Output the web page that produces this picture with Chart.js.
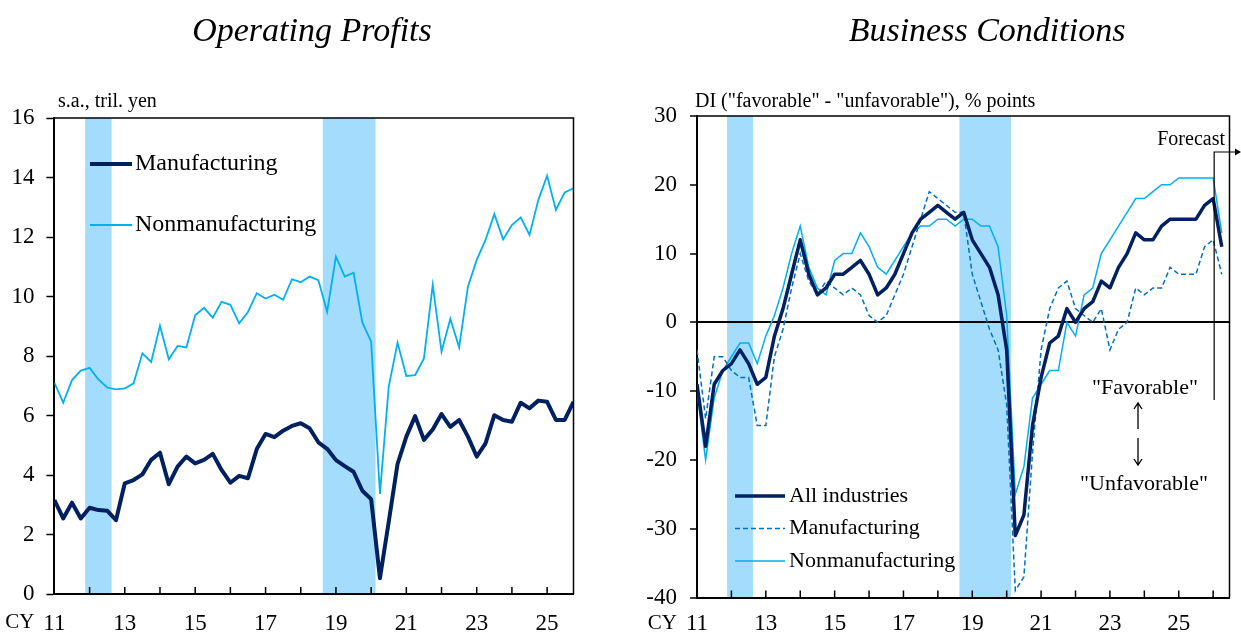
<!DOCTYPE html>
<html lang="en">
<head>
<meta charset="utf-8">
<title>Operating Profits and Business Conditions</title>
<script src="https://cdn.jsdelivr.net/npm/chart.js@4.4.1/dist/chart.umd.min.js"></script>
<style>
    html, body { margin: 0; padding: 0; background: #ffffff; }
    #page { position: relative; width: 1241px; height: 635px; overflow: hidden; }
    #profitsChart { position: absolute; left: 0; top: 0; }
    #conditionsChart { position: absolute; left: 620px; top: 0; }
</style>
</head>
<body>
<div id="page">
    <canvas id="profitsChart" width="620" height="635"></canvas>
    <canvas id="conditionsChart" width="621" height="635"></canvas>
</div>
<script>
// quarterly, from CY2011 Q1
const profitQuarters = makeQuarters(2011, 60);   // to 2025 Q4
const tankanQuarters = makeQuarters(2011, 62);   // to 2026 Q2 (last one is the forecast)
const yearLabels = ['11', '13', '15', '17', '19', '21', '23', '25'];

// operating profits, s.a., tril. yen
const profitsManufacturing = [
    3.16, 2.54, 3.07, 2.54, 2.90, 2.82, 2.80, 2.48, 3.72, 3.83,
    4.02, 4.51, 4.75, 3.69, 4.28, 4.62, 4.39, 4.51, 4.71, 4.17,
    3.74, 3.97, 3.89, 4.87, 5.38, 5.27, 5.49, 5.65, 5.74, 5.57,
    5.10, 4.88, 4.50, 4.30, 4.11, 3.47, 3.19, 0.53, 2.43, 4.37,
    5.29, 5.98, 5.18, 5.53, 6.05, 5.62, 5.85, 5.29, 4.62, 5.06,
    6.01, 5.85, 5.79, 6.43, 6.24, 6.50, 6.46, 5.85, 5.85, 6.46
];
const profitsNonmanufacturing = [
    7.10, 6.43, 7.19, 7.51, 7.60, 7.21, 6.94, 6.88, 6.91, 7.08,
    8.09, 7.80, 9.02, 7.89, 8.34, 8.29, 9.37, 9.62, 9.29, 9.82,
    9.72, 9.10, 9.48, 10.11, 9.93, 10.06, 9.89, 10.58, 10.48, 10.67,
    10.55, 9.49, 11.34, 10.67, 10.80, 9.13, 8.48, 3.36, 6.97, 8.45,
    7.33, 7.36, 7.92, 10.39, 8.15, 9.25, 8.29, 10.33, 11.23, 11.90,
    12.77, 11.92, 12.40, 12.66, 12.07, 13.24, 14.06, 12.91, 13.50, 13.64
];

// business conditions DI, % points
const diAllIndustries = [
    -9, -18, -9, -7, -6, -4, -6, -9, -8, -2,
    2, 7, 12, 7, 4, 5, 7, 7, 8, 9,
    7, 4, 5, 7, 10, 13, 15, 16, 17, 16,
    15, 16, 12, 10, 8, 4, -4, -31, -28, -15,
    -8, -3, -2, 2, 0, 2, 3, 6, 5, 8,
    10, 13, 12, 12, 14, 15, 15, 15, 15, 17,
    18, 11
];
const diManufacturing = [
    -4, -14, -5, -5, -7, -8, -8, -15, -15, -5,
    -1, 5, 10, 6, 4, 6, 5, 4, 5, 4,
    1, 0, 1, 4, 7, 11, 15, 19, 18, 17,
    16, 16, 7, 3, -1, -4, -12, -39, -37, -19,
    -4, 2, 5, 6, 2, 1, 0, 2, -4, -1,
    0, 5, 4, 5, 5, 8, 7, 7, 7, 11,
    12, 7
];
const diNonmanufacturing = [
    -10, -20, -11, -7, -5, -3, -3, -6, -2, 1,
    5, 10, 14, 8, 5, 4, 9, 10, 10, 13,
    11, 8, 7, 9, 11, 13, 14, 14, 15, 15,
    14, 15, 15, 14, 14, 11, 1, -25, -21, -11,
    -9, -7, -7, 0, -2, 4, 5, 10, 12, 14,
    16, 18, 18, 19, 20, 20, 21, 21, 21, 21,
    21, 13
];

const recessions = [['2012Q1', '2012Q3'], ['2018Q4', '2020Q1']];
const forecastQuarter = '2026Q1';

const NAVY = '#002060';
const MID_BLUE = '#0070c0';
const LIGHT_BLUE = '#00b0f0';
const BAND_COLOR = '#a3dcfd';
const SERIF = '"Liberation Serif", "Times New Roman", serif';
const TICK_SIZE = 23;

Chart.defaults.font.family = SERIF;
Chart.defaults.color = '#000';
Chart.defaults.animation = false;

function makeQuarters(startYear, count) {
    const out = [];
    for (let i = 0; i < count; i++) {
        out.push(`${startYear + Math.floor(i / 4)}Q${(i % 4) + 1}`);
    }
    return out;
}

function toPoints(values) {
    return values.map((v, i) => ({ x: i, y: v }));
}

function yearTick(value) {
    return value % 8 === 0 ? yearLabels[value / 8] : '';
}

// bands, frame, inward year ticks, titles and legend
function decorations(cfg) {
    return {
        id: 'decor',
        beforeDraw(chart) {
            const { ctx, chartArea: area, scales: { x } } = chart;
            ctx.save();
            ctx.fillStyle = BAND_COLOR;
            recessions.forEach(([from, to]) => {
                const left = x.getPixelForValue(cfg.quarters.indexOf(from) - 0.5);
                const right = x.getPixelForValue(cfg.quarters.indexOf(to) + 0.5);
                ctx.fillRect(left, area.top, right - left, area.bottom - area.top);
            });
            ctx.restore();
        },
        afterDraw(chart) {
            const { ctx, chartArea: area, scales: { x } } = chart;
            ctx.save();
            ctx.strokeStyle = '#000';
            ctx.lineWidth = 1.5;
            ctx.beginPath();
            ctx.moveTo(area.left, area.top);
            ctx.lineTo(area.right, area.top);
            ctx.lineTo(area.right, area.bottom);
            for (let v = 4; v <= x.max; v += 4) {
                const px = x.getPixelForValue(v);
                ctx.moveTo(px, area.bottom);
                ctx.lineTo(px, area.bottom - 7);
            }
            ctx.stroke();

            ctx.fillStyle = '#000';
            ctx.textBaseline = 'middle';
            ctx.font = `21px ${SERIF}`;
            ctx.textAlign = 'right';
            ctx.fillText('CY', area.left - 20, cfg.cyY);

            ctx.textAlign = 'center';
            ctx.font = `italic 34px ${SERIF}`;
            ctx.fillText(cfg.title, cfg.titleX, 32);

            ctx.textAlign = 'left';
            ctx.font = `20px ${SERIF}`;
            ctx.fillText(cfg.unit, cfg.unitX, 102);

            ctx.font = `${cfg.legend.size}px ${SERIF}`;
            chart.data.datasets.forEach((ds, i) => {
                const ly = cfg.legend.y[i];
                ctx.save();
                ctx.strokeStyle = ds.borderColor;
                ctx.lineWidth = ds.borderWidth;
                ctx.setLineDash(ds.borderDash || []);
                ctx.beginPath();
                ctx.moveTo(cfg.legend.x1, ly);
                ctx.lineTo(cfg.legend.x2, ly);
                ctx.stroke();
                ctx.restore();
                ctx.fillText(ds.label, cfg.legend.textX, ly);
            });

            if (cfg.extra) cfg.extra(chart);
            ctx.restore();
        }
    };
}

function xAxis(max, height, pad) {
    return {
        type: 'linear',
        min: 0,
        max: max,
        grid: { display: false, drawTicks: false },
        border: { color: '#000', width: 2 },
        ticks: {
            stepSize: 4,
            includeBounds: false,
            autoSkip: false,
            maxRotation: 0,
            padding: pad,
            font: { size: TICK_SIZE },
            callback: yearTick
        },
        afterFit: s => { s.height = height; }
    };
}

new Chart(document.getElementById('profitsChart'), {
    type: 'line',
    data: {
        datasets: [{
            label: 'Manufacturing',
            data: toPoints(profitsManufacturing),
            borderColor: NAVY,
            borderWidth: 4,
            borderJoinStyle: 'round',
            pointRadius: 0
        }, {
            label: 'Nonmanufacturing',
            data: toPoints(profitsNonmanufacturing),
            borderColor: LIGHT_BLUE,
            borderWidth: 1.8,
            pointRadius: 0
        }]
    },
    options: {
        responsive: false,
        layout: { padding: { left: 0, top: 118, right: 46.5, bottom: 0 } },
        plugins: { legend: { display: false }, tooltip: { enabled: false } },
        scales: {
            x: xAxis(profitQuarters.length - 1, 41, 16),
            y: {
                min: 0,
                max: 16,
                ticks: { stepSize: 2, padding: 12, font: { size: TICK_SIZE } },
                grid: { drawOnChartArea: false, tickLength: 8, tickColor: '#000', tickWidth: 1.5 },
                border: { color: '#000', width: 2 },
                afterFit: s => { s.width = 54.4; }
            }
        }
    },
    plugins: [decorations({
        quarters: profitQuarters,
        title: 'Operating Profits',
        titleX: 312,
        unit: 's.a., tril. yen',
        unitX: 58,
        cyY: 622,
        legend: { size: 24, x1: 90, x2: 132, textX: 135, y: [164, 225] }
    })]
});

new Chart(document.getElementById('conditionsChart'), {
    type: 'line',
    data: {
        datasets: [{
            label: 'All industries',
            data: toPoints(diAllIndustries),
            borderColor: NAVY,
            borderWidth: 3.5,
            borderJoinStyle: 'round',
            pointRadius: 0
        }, {
            label: 'Manufacturing',
            data: toPoints(diManufacturing),
            borderColor: MID_BLUE,
            borderWidth: 1.5,
            borderDash: [5, 3],
            pointRadius: 0
        }, {
            label: 'Nonmanufacturing',
            data: toPoints(diNonmanufacturing),
            borderColor: LIGHT_BLUE,
            borderWidth: 1.5,
            pointRadius: 0
        }]
    },
    options: {
        responsive: false,
        layout: { padding: { left: 0, top: 116, right: 11.5, bottom: 0 } },
        plugins: { legend: { display: false }, tooltip: { enabled: false } },
        scales: {
            x: xAxis(61.9, 37.5, 13),
            y: {
                min: -40,
                max: 30,
                ticks: { stepSize: 10, padding: 13, font: { size: TICK_SIZE } },
                grid: {
                    color: c => (c.tick && c.tick.value === 0 ? '#000' : 'rgba(0,0,0,0)'),
                    lineWidth: 2,
                    tickLength: 7,
                    tickColor: '#000',
                    tickWidth: 1.5
                },
                border: { color: '#000', width: 2 },
                afterFit: s => { s.width = 77; }
            }
        }
    },
    plugins: [decorations({
        quarters: tankanQuarters,
        title: 'Business Conditions',
        titleX: 367,
        unit: 'DI ("favorable" - "unfavorable"), % points',
        unitX: 75,
        cyY: 623,
        legend: { size: 22, x1: 115, x2: 165, textX: 169, y: [496, 528.5, 561] },
        extra(chart) {
            const { ctx, scales: { x } } = chart;
            const fx = x.getPixelForValue(tankanQuarters.indexOf(forecastQuarter)) + 1;
            const top = 152;
            ctx.strokeStyle = '#000';
            ctx.lineWidth = 1.2;
            ctx.beginPath();
            ctx.moveTo(fx, 400);
            ctx.lineTo(fx, top);
            ctx.lineTo(chart.width - 4, top);
            ctx.stroke();
            ctx.beginPath();
            ctx.moveTo(chart.width, top);
            ctx.lineTo(chart.width - 6, top - 3.5);
            ctx.lineTo(chart.width - 6, top + 3.5);
            ctx.closePath();
            ctx.fill();

            ctx.font = `20px ${SERIF}`;
            ctx.textAlign = 'right';
            ctx.fillText('Forecast', 605, 140);

            ctx.font = `22px ${SERIF}`;
            ctx.textAlign = 'center';
            ctx.fillText('"Favorable"', 525, 388);
            ctx.fillText('"Unfavorable"', 524, 484);

            const ax = 518;
            ctx.lineWidth = 1.3;
            ctx.beginPath();
            ctx.moveTo(ax, 429); ctx.lineTo(ax, 403);
            ctx.moveTo(ax - 4, 409); ctx.lineTo(ax, 403); ctx.lineTo(ax + 4, 409);
            ctx.moveTo(ax, 438); ctx.lineTo(ax, 465);
            ctx.moveTo(ax - 4, 459); ctx.lineTo(ax, 465); ctx.lineTo(ax + 4, 459);
            ctx.stroke();
        }
    })]
});
</script>
</body>
</html>
